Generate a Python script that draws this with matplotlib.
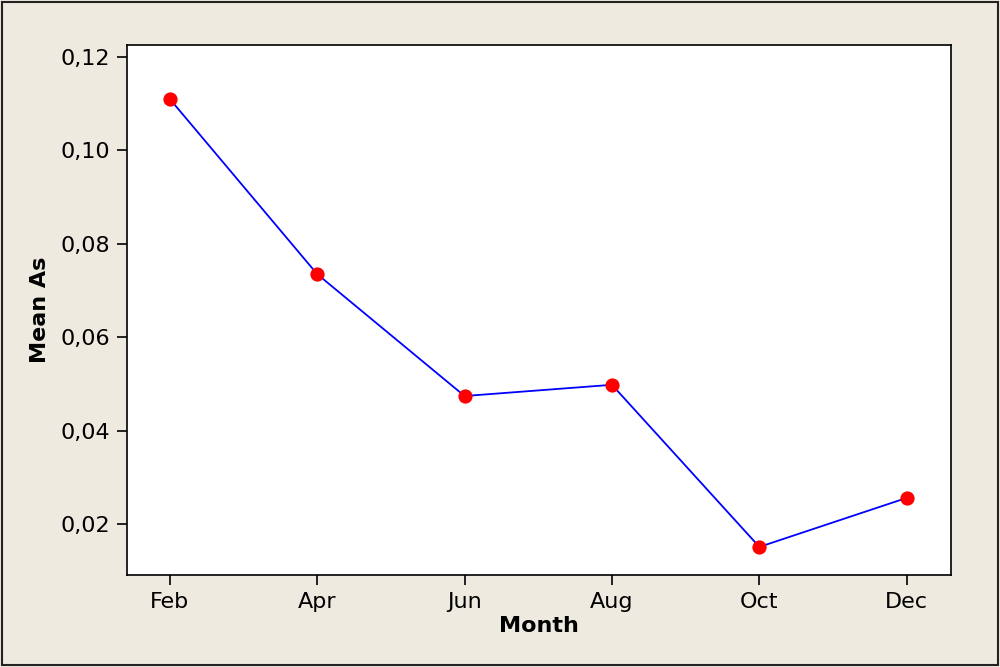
import matplotlib.pyplot as plt
from matplotlib.patches import Rectangle
from matplotlib.ticker import FuncFormatter

months = ['Feb', 'Apr', 'Jun', 'Aug', 'Oct', 'Dec']
mean_as = [0.1110, 0.0735, 0.0474, 0.0498, 0.0151, 0.0256]
yticks = [0.02, 0.04, 0.06, 0.08, 0.10, 0.12]

BG = '#eeeae0'

fig = plt.figure(figsize=(10, 6.67), dpi=100, facecolor=BG)
fig.patches.append(Rectangle((0.002, 0.003), 0.996, 0.994, transform=fig.transFigure,
                             fill=False, edgecolor='#222222', linewidth=1.5))

ax = fig.add_axes([0.127, 0.138, 0.824, 0.795])
ax.set_facecolor('white')

x = range(len(months))
ax.plot(x, mean_as, color='#0000ff', linewidth=1.3, zorder=2)
ax.scatter(x, mean_as, color='#ff0000', s=105, zorder=3, linewidths=0)

ax.set_xlim(-0.29, 5.30)
ax.set_ylim(0.0091, 0.1226)
ax.set_xticks(list(x))
ax.set_xticklabels(months)
ax.set_yticks(yticks)
ax.yaxis.set_major_formatter(FuncFormatter(lambda v, p: f'{v:.2f}'.replace('.', ',')))

for s in ax.spines.values():
    s.set_linewidth(1.2)
ax.tick_params(axis='both', labelsize=16, length=7, width=1.2, colors='black', pad=5)

ax.set_xlabel('Month', fontsize=16, fontweight='bold', labelpad=3)
ax.set_ylabel('Mean As', fontsize=16, fontweight='bold', labelpad=8)

fig.savefig('out.png', dpi=100, facecolor=BG)
